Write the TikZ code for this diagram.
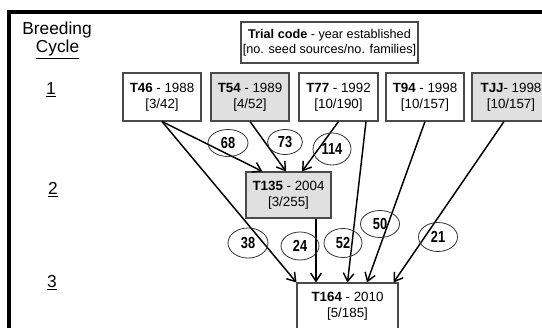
\documentclass[tikz,border=0pt]{standalone}
\usepackage{fontspec}
\setmainfont{Liberation Sans}
\newfontfamily\narrowfont[FakeStretch=0.8]{Liberation Sans}
\usetikzlibrary{arrows.meta,shapes.geometric,calc}
\definecolor{boxgray}{HTML}{E0E0E0}
\definecolor{boxline}{HTML}{4A4A4A}
\definecolor{ellline}{HTML}{333333}
\begin{document}
\begin{tikzpicture}[x=0.75pt,y=-0.75pt,
  trialbox/.style={draw=boxline, line width=0.8pt, minimum width=58.5pt,
    minimum height=36pt, inner sep=0pt, align=center,
    font=\fontsize{10}{12}\selectfont},
  grayfill/.style={fill=boxgray},
  countell/.style={ellipse, draw=ellline, line width=0.6pt, inner sep=0pt,
    font=\narrowfont\bfseries\fontsize{12}{12}\selectfont},
  flow/.style={line width=1.1pt, -{Straight Barb[length=6pt,width=8pt]}},
  cyclelbl/.style={anchor=base, font=\fontsize{13}{14}\selectfont},
  frameline/.style={line width=2.3pt}
]
\useasboundingbox (0,0) rectangle (542,328);
\clip (0,0) rectangle (542,328);

% frame
\draw[frameline] (9,340) -- (9,12) -- (560,12);

% cycle labels
\node[cyclelbl] (lbreed) at (57,35) {Breeding};
\node[cyclelbl] (lcycle) at (57.5,53) {\underline{Cycle}};
\node[cyclelbl] (lone) at (51,94) {\underline{1}};
\node[cyclelbl] (ltwo) at (53,194) {\underline{2}};
\node[cyclelbl] (lthree) at (52,287) {\underline{3}};

% legend
\node[draw=boxline, line width=0.8pt, minimum width=132.75pt, minimum height=30.75pt,
  inner sep=0pt, align=center, font=\fontsize{9.5}{11.25}\selectfont] (legend)
  at (329.5,42.5) {\textbf{Trial code} - year established\\ {[}no. seed sources/no. families{]}};

% cycle 1 trials
\node[trialbox] (t46) at (162,97) {\textbf{T46} - 1988\\ {[}3/42{]}};
\node[trialbox, grayfill] (t54) at (250,97) {\textbf{T54} - 1989\\ {[}4/52{]}};
\node[trialbox, minimum width=59.25pt] (t77) at (338.5,97) {\textbf{T77} - 1992\\ {[}10/190{]}};
\node[trialbox] (t94) at (425,97) {\textbf{T94} - 1998\\ {[}10/157{]}};
\node[trialbox, grayfill] (tjj) at (511,97) {\textbf{TJJ}- 1998\\ {[}10/157{]}};

% cycle 2 and 3
\node[trialbox, grayfill, minimum width=63.75pt, minimum height=34.5pt] (t135)
  at (288.5,195) {\textbf{T135} - 2004\\ {[}3/255{]}};
\node[trialbox, minimum width=75.75pt, minimum height=34.5pt] (t164)
  at (347.5,306) {\textbf{T164} - 2010\\ {[}5/185{]}};

% connectors
\draw[flow] (t46.south) -- ($(t135.north west)+(17,0)$);
\draw[flow] (t46.south) -- (t164.north west);
\draw[flow] (t54.south) -- ($(t135.north)+(-2.5,0)$);
\draw[flow] (t77.south) -- ($(t135.north)+(13.5,0)$);
\draw[flow] ($(t77.south)+(27.5,0)$) -- (t164.north);
\draw[flow] (t94.south) -- ($(t164.north)+(19.5,0)$);
\draw[flow] ($(tjj.south)+(-7,0)$) -- ($(t164.north east)+(-5,0)$);
\coordinate (t135out) at ($(t135.south)+(27.5,0)$);
\draw[flow] (t135out) -- (t135out |- t164.north);

% count ellipses
\node[countell, minimum width=30pt, minimum height=20.25pt] (e68) at (228,143) {68};
\node[countell, minimum width=26.25pt, minimum height=18.75pt] (e73) at (285,142) {73};
\node[countell, minimum width=28.5pt, minimum height=24pt] (e114) at (332,149) {114};
\node[countell, minimum width=30pt, minimum height=22.5pt] (e38) at (248,243) {38};
\node[countell, minimum width=28.5pt, minimum height=21pt] (e24) at (300,246) {24};
\node[countell, minimum width=28.5pt, minimum height=21.75pt] (e52) at (343,243) {52};
\node[countell, minimum width=29.25pt, minimum height=20.25pt] (e50) at (380,224) {50};
\node[countell, minimum width=29.25pt, minimum height=21.75pt] (e21) at (438,237) {21};
\end{tikzpicture}
\end{document}
